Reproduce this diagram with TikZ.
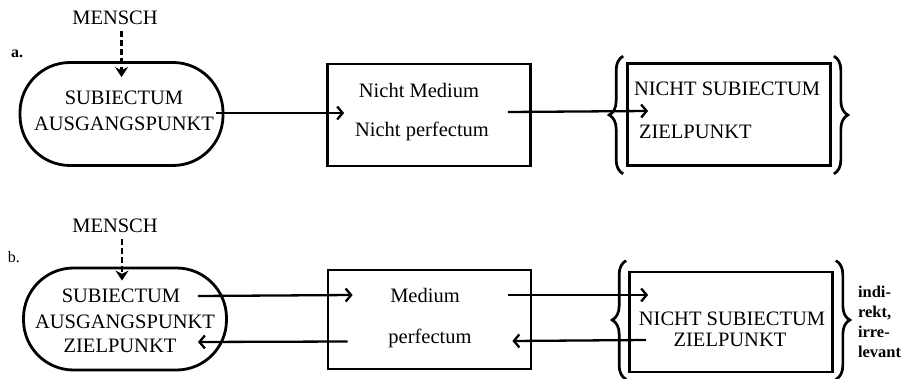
\documentclass[tikz,border=0pt]{standalone}
\usepackage{fontspec}
\setmainfont{Liberation Serif}
\usetikzlibrary{arrows.meta,decorations.pathreplacing}
\def\bigfont{\fontsize{20.5}{24}\selectfont}

\begin{document}
\begin{tikzpicture}[x=1pt,y=-1pt,line width=2pt,
	>={Straight Barb[length=5.5pt,width=13pt]}]
	\tikzstyle{word}=[font=\bigfont,inner sep=0pt,anchor=base]
	\tikzstyle{word left}=[word,anchor=base west]
	\tikzstyle{tag}=[font=\fontsize{16}{18}\selectfont,inner sep=0pt,anchor=base]
	\tikzstyle{subject}=[draw,line width=2.8pt,rounded corners=50pt,minimum width=203pt,minimum height=103pt]
	\tikzstyle{frame}=[draw,line width=2.7pt,minimum width=203pt,minimum height=102pt]
	\tikzstyle{flow}=[->,line width=2.3pt]
	\tikzstyle{mensch}=[-{Stealth[length=10pt,width=13pt]},line width=2.8pt,dash pattern=on 6pt off 3pt]
	\tikzstyle{bracket}=[decorate,decoration={brace,amplitude=14pt},line width=2.7pt]

	\useasboundingbox (0,0) rectangle (907,379);

	% Row a: shapes
	\node[subject] (subjA) at (121.5,114) {};
	\node[frame] (medA) at (429,115) {};
	\node[frame] (objA) at (729,114.5) {};

	% Row a: texts
	\node[tag,font=\fontsize{16}{18}\selectfont\bfseries] (labA) at (17,58) {a.};
	\node[word] (menschA) at (115,25) {MENSCH};
	\node[word] (subjA-1) at (124,105) {SUBIECTUM};
	\node[word] (subjA-2) at (124,131) {AUSGANGSPUNKT};
	\node[word] (medA-1) at (419,98) {Nicht Medium};
	\node[word] (medA-2) at (422,137) {Nicht perfectum};
	\node[word left] (objA-1) at (633,96) {NICHT SUBIECTUM};
	\node[word left] (objA-2) at (638,139) {ZIELPUNKT};

	% Row a: braces
	\draw[bracket] ([xshift=-3pt,yshift=-7pt]objA.south west) -- ([xshift=-3pt,yshift=6pt]objA.north west);
	\draw[bracket] ([xshift=2pt,yshift=6pt]objA.north east) -- ([xshift=2pt,yshift=-7pt]objA.south east);

	% Row a: arrows
	\draw[mensch] (menschA.south -| subjA.north) ++(0,5) -- ([yshift=-16pt]subjA.north);
	\draw[flow] ([xshift=-8pt,yshift=1pt]subjA.east) -- ([xshift=18pt,yshift=2pt]medA.west);
	\draw[flow] ([xshift=-24pt,yshift=3pt]medA.east) -- ([xshift=22pt,yshift=3.5pt]objA.west);

	% Row b: shapes
	\node[subject,minimum height=102pt] (subjB) at (125,319) {};
	\node[frame,minimum height=99pt] (medB) at (429.5,319.5) {};
	\node[frame,minimum height=100pt] (objB) at (731,322) {};

	% Row b: texts
	\node[tag] (labB) at (14,263) {b.};
	\node[word] (menschB) at (115,233) {MENSCH};
	\node[word] (subjB-1) at (121,302) {SUBIECTUM};
	\node[word] (subjB-2) at (125,328) {AUSGANGSPUNKT};
	\node[word] (subjB-3) at (120,352) {ZIELPUNKT};
	\node[word] (medB-1) at (425,302) {Medium};
	\node[word] (medB-2) at (430,343) {perfectum};
	\node[word] (objB-1) at (732,325) {NICHT SUBIECTUM};
	\node[word] (objB-2) at (730,346) {ZIELPUNKT};
	\node[font=\fontsize{16.5}{20}\selectfont\bfseries,inner sep=0pt,anchor=north west,align=left]
		(note) at (857,285) {indi-\\rekt,\\irre-\\levant};

	% Row b: braces
	\draw[bracket] ([xshift=-2pt,yshift=-6pt]objB.south west) -- ([xshift=-2pt,yshift=10pt]objB.north west);
	\draw[bracket] ([xshift=2pt,yshift=10pt]objB.north east) -- ([xshift=2pt,yshift=-6pt]objB.south east);

	% Row b: arrows
	\draw[mensch] (menschB.south -| subjB.north) ++(-3,5) -- ([xshift=-3pt,yshift=-14pt]subjB.north);
	\draw[flow] ([xshift=-30pt,yshift=23pt]subjB.east) -- ([xshift=26pt,yshift=24.5pt]medB.west);
	\draw[flow] ([xshift=-24pt,yshift=24.5pt]medB.east) -- ([xshift=20pt,yshift=27pt]objB.west);
	\draw[flow] ([xshift=18pt,yshift=-18pt]objB.west) -- ([xshift=-20pt,yshift=-21.5pt]medB.east);
	\draw[flow] ([xshift=21pt,yshift=-22pt]medB.west) -- ([xshift=-30pt,yshift=-23pt]subjB.east);
\end{tikzpicture}
\end{document}
